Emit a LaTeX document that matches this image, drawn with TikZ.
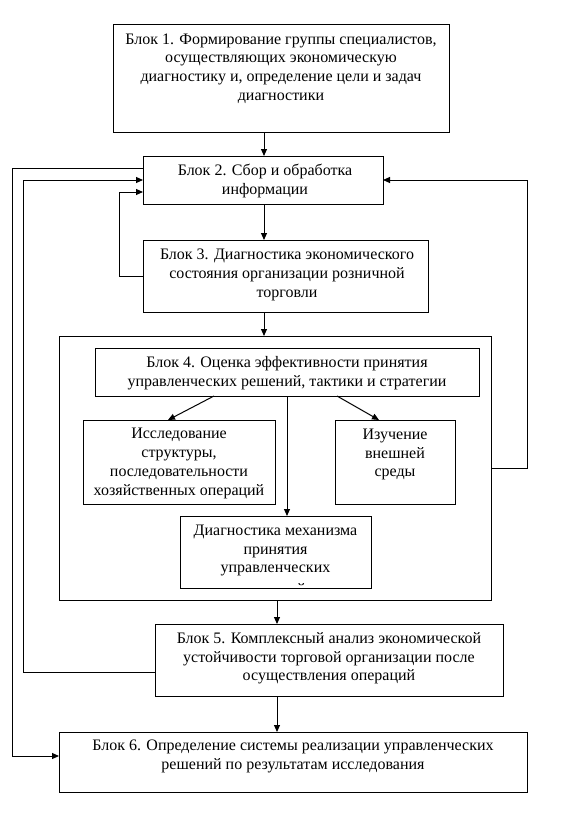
\documentclass[tikz,border=0pt]{standalone}
\usepackage{fontspec}
\setmainfont{Liberation Serif}
\usetikzlibrary{arrows.meta}
\begin{document}
\begin{tikzpicture}[x=1pt,y=-1pt,
  box/.style={draw,line width=1pt,rectangle,inner sep=0pt,outer sep=0pt},
  txt/.style={align=center,inner sep=0pt,font=\fontsize{16}{18.7}\selectfont},
  arr/.style={line width=1pt,-{Triangle[length=7pt,width=6pt]}}]
\fill[white] (0,0) rectangle (576,816);
\useasboundingbox (0,0) rectangle (576,816);

% boxes
\node[box,minimum width=336pt,minimum height=107pt] (b1) at (281,78.5) {};
\node[box,minimum width=240pt,minimum height=48pt] (b2) at (263,180) {};
\node[box,minimum width=285pt,minimum height=72pt] (b3) at (285.5,276) {};
\node[box,minimum width=432pt,minimum height=264pt] (outer) at (275,468) {};
\node[box,minimum width=384pt,minimum height=48pt] (b4) at (287,372) {};
\node[box,minimum width=192pt,minimum height=84pt] (sl) at (179,462) {};
\node[box,minimum width=120pt,minimum height=84pt] (sr) at (395,462) {};
\node[box,minimum width=191pt,minimum height=72pt] (mid) at (275.5,552) {};
\node[box,minimum width=348pt,minimum height=72pt] (b5) at (329,660) {};
\node[box,minimum width=468pt,minimum height=60pt] (b6) at (293,762) {};

% texts
\node[txt] (t1) at (281,68.5) {Блок 1. Формирование группы специалистов,\\ осуществляющих экономическую\\ диагностику и, определение цели и задач\\ диагностики};
\node[txt] (t2) at (265,181) {Блок 2. Сбор и обработка\\ информации};
\node[txt] (t3) at (287,275) {Блок 3. Диагностика экономического\\ состояния организации розничной\\ торговли};
\node[txt] (t4) at (287,373) {Блок 4. Оценка эффективности принятия\\ управленческих решений, тактики и стратегии};
\node[txt] (tl) at (179,463.5) {Исследование\\ структуры,\\ последовательности\\ хозяйственных операций};
\node[txt] (tr) at (395,454.5) {Изучение\\ внешней\\ среды};
\node[txt] (tm) at (275.5,550.5) {Диагностика механизма\\ принятия\\ управленческих};
\begin{scope}
  \clip (180,516) rectangle (371,585);
  \node[txt,anchor=base] (tm4) at (275.5,594.5) {решений};
\end{scope}
\node[txt] (t5) at (329,658.5) {Блок 5. Комплексный анализ экономической\\ устойчивости торговой организации после\\ осуществления операций};
\node[txt] (t6) at (293,756.5) {Блок 6. Определение системы реализации управленческих\\ решений по результатам исследования};

% helper coordinates
\coordinate (c264) at (264,0);
\coordinate (c287) at (287,0);
\coordinate (c277) at (277,0);
\coordinate (dl1) at (214,0);
\coordinate (dl2) at (168,0);
\coordinate (dr1) at (337,0);
\coordinate (dr2) at (379,0);
\coordinate (L1) at (12,0);
\coordinate (L2) at (23,0);
\coordinate (L3) at (119,0);
\coordinate (R1) at (527,0);
\coordinate (b2in) at ([yshift=-12pt]b2.west);
\coordinate (b2out) at ([yshift=12pt]b2.west);
\coordinate (b5out) at ([yshift=-12pt]b5.west);
\coordinate (b6in) at ([yshift=6pt]b6.west);

% connectors
\draw[arr] (b1.south -| c264) -- (b2.north -| c264);
\draw[arr] (b2.south -| c264) -- (b3.north -| c264);
\draw[arr] (b3.south -| c264) -- (outer.north -| c264);
\draw[arr] (b4.south -| dl1) -- (sl.north -| dl2);
\draw[arr] (b4.south -| dr1) -- (sr.north -| dr2);
\draw[arr] (b4.south -| c287) -- (mid.north -| c287);
\draw[arr] (outer.south -| c277) -- (b5.north -| c277);
\draw[arr] (b5.south -| c277) -- (b6.north -| c277);
\draw[arr] (b3.west) -| (b2in -| L3) -- (b2in);
\draw[arr] (b2out) -| (b6in -| L1) -- (b6in);
\draw[arr] (b5out) -| (b2.west -| L2) -- (b2.west);
\draw[arr] (outer.east) -| (b2.east -| R1) -- (b2.east);
\end{tikzpicture}
\end{document}
